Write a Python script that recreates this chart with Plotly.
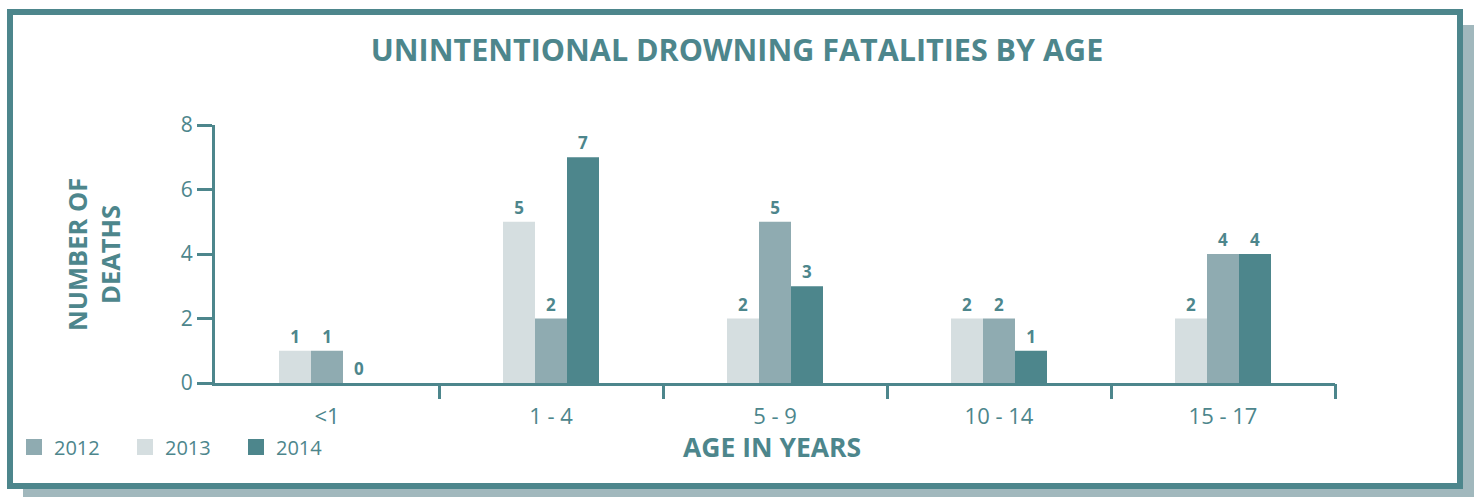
import plotly.graph_objects as go

categories = ["<1", "1 - 4", "5 - 9", "10 - 14", "15 - 17"]
years = ["2012", "2013", "2014"]
deaths_2012 = [1, 2, 5, 2, 4]
deaths_2013 = [1, 5, 2, 2, 2]
deaths_2014 = [0, 7, 3, 1, 4]
y_ticks = [0, 2, 4, 6, 8]

TEAL = "#4d868c"
MID = "#8fabb1"
LIGHT = "#d5dee0"
SHADOW = "#a1b8bd"
FONT = "Open Sans"

W, H = 1474, 497
L, R, T, B = 215, 1335, 125, 383


def px(x):
    return (x - L) / (R - L)


def py(y):
    return (B - y) / (B - T)


series = {
    "2012": (deaths_2012, MID),
    "2013": (deaths_2013, LIGHT),
    "2014": (deaths_2014, TEAL),
}

fig = go.Figure()
for yr in ["2013", "2012", "2014"]:
    vals, col = series[yr]
    fig.add_trace(go.Bar(
        x=categories, y=vals, name=yr, marker=dict(color=col, line=dict(width=0)),
        text=[str(v) for v in vals], textposition="outside",
        textfont=dict(family=FONT, size=17, color=TEAL, weight="bold"),
        cliponaxis=False, showlegend=False,
    ))

for yr in years:
    vals, col = series[yr]
    fig.add_trace(go.Scatter(
        x=[None], y=[None], mode="markers", name=yr,
        marker=dict(symbol="square", size=16, color=col, line=dict(width=0)),
    ))

boundaries = [i + 0.5 for i in range(len(categories))]
fig.add_trace(go.Scatter(x=[None], y=[None], xaxis="x2", showlegend=False, hoverinfo="skip"))

shapes = [
    dict(type="rect", xref="paper", yref="paper", layer="below",
         x0=px(23), x1=px(1474), y0=py(497), y1=py(25),
         fillcolor=SHADOW, line=dict(width=0)),
    dict(type="rect", xref="paper", yref="paper", layer="below",
         x0=px(10), x1=px(1460), y0=py(486), y1=py(12),
         fillcolor="white", line=dict(width=6, color=TEAL)),
]

annotations = [
    dict(text="NUMBER OF<br>DEATHS", xref="paper", yref="paper",
         x=px(93), y=py(255), textangle=-90, showarrow=False,
         font=dict(family=FONT, size=25.5, color=TEAL, weight="bold"),
         xanchor="center", yanchor="middle"),
    dict(text="AGE IN YEARS", xref="paper", yref="paper",
         x=px(772), y=py(447), showarrow=False,
         font=dict(family=FONT, size=26.5, color=TEAL, weight="bold"),
         xanchor="center", yanchor="middle"),
]

fig.update_layout(
    width=W, height=H,
    margin=dict(l=L, r=W - R, t=T, b=H - B, pad=0),
    paper_bgcolor="white", plot_bgcolor="rgba(0,0,0,0)",
    barmode="group", bargap=0.5714, bargroupgap=0,
    title=dict(text="<b>UNINTENTIONAL DROWNING FATALITIES BY AGE</b>",
               x=0.5, xref="container", xanchor="center",
               y=1 - 50 / H, yref="container", yanchor="middle",
               font=dict(family=FONT, size=30.5, color=TEAL)),
    font=dict(family=FONT, color=TEAL),
    xaxis=dict(type="category", showline=True, linewidth=3, linecolor=TEAL,
               ticks="outside", ticklen=12, tickcolor="rgba(0,0,0,0)",
               tickfont=dict(family=FONT, size=22, color=TEAL),
               showgrid=False, zeroline=False, fixedrange=True),
    xaxis2=dict(overlaying="x", anchor="y", side="bottom",
                range=[-0.5, len(categories) - 0.5],
                tickmode="array", tickvals=boundaries,
                ticks="outside", ticklen=15, tickwidth=3, tickcolor=TEAL,
                showticklabels=False, showline=False, showgrid=False, zeroline=False),
    yaxis=dict(range=[0, 8], tickmode="array", tickvals=y_ticks,
               showline=True, linewidth=3, linecolor=TEAL,
               ticks="outside", ticklen=15, tickwidth=3, tickcolor=TEAL,
               tickfont=dict(family=FONT, size=21, color=TEAL),
               showgrid=False, zeroline=False),
    legend=dict(orientation="h", x=px(14), y=py(447), xanchor="left", yanchor="middle",
                xref="paper", yref="paper",
                entrywidth=66, entrywidthmode="pixels",
                font=dict(family=FONT, size=20, color=TEAL),
                bgcolor="rgba(0,0,0,0)", traceorder="normal"),
    shapes=shapes,
    annotations=annotations,
)

fig.write_html("out.html", config={"displayModeBar": False},
               post_script="document.body.style.margin='0';document.body.style.overflow='hidden';")
